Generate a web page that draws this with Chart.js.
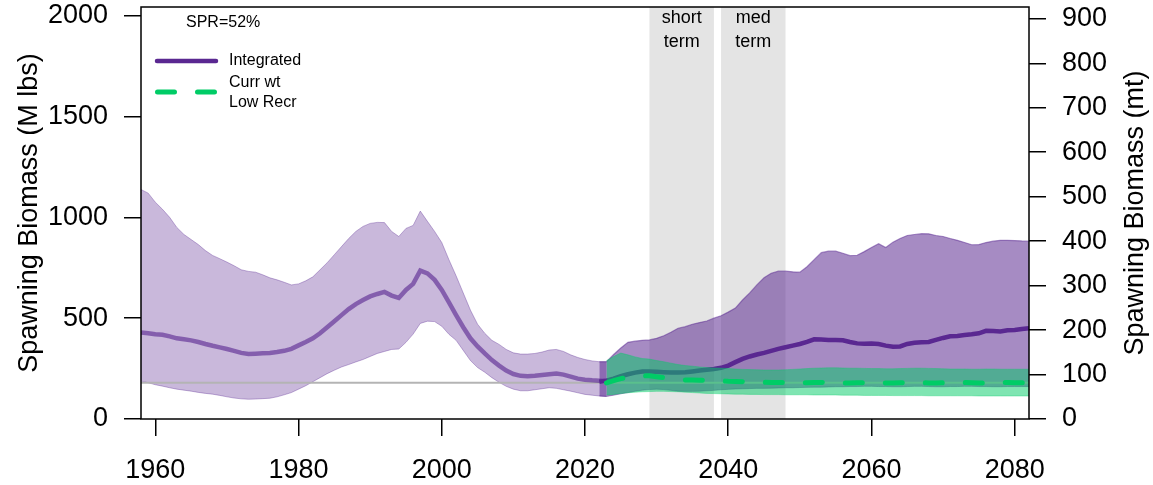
<!DOCTYPE html>
<html>
<head>
<meta charset="utf-8">
<script src="https://cdn.jsdelivr.net/npm/chart.js@4.4.1/dist/chart.umd.min.js"></script>
<style>
  html, body { margin: 0; padding: 0; background: #fff; }
  canvas { display: block; }
</style>
</head>
<body>
<canvas id="biomass-chart" width="1153" height="485"></canvas>
<script>
// spawning biomass, M lbs
const histStart = 1958;
const histMed = [429, 425, 420, 418, 410, 400, 395, 390, 382, 372,
  363, 355, 347, 338, 328, 322, 324, 326, 327, 332,
  338, 348, 365, 382, 400, 425, 455, 485, 515, 545,
  570, 590, 608, 620, 630, 612, 600, 640, 670, 736,
  722, 690, 640, 578, 515, 455, 400, 360, 325, 292,
  265, 240, 223, 214, 212, 214, 218, 222, 225, 220,
  210, 200, 195, 192, 190, 188];
const histUp = [1138, 1120, 1075, 1040, 1000, 950, 915, 890, 865, 835,
  811, 795, 778, 760, 740, 732, 728, 715, 700, 690,
  678, 665, 670, 685, 705, 740, 775, 815, 855, 895,
  930, 955, 970, 975, 974, 930, 905, 945, 960, 1031,
  980, 930, 875, 790, 710, 625, 540, 470, 425, 390,
  370, 345, 328, 322, 322, 325, 332, 342, 345, 335,
  318, 305, 295, 288, 284, 284];
const histLo = [188, 180, 170, 163, 155, 148, 143, 138, 132, 127,
  123, 117, 110, 104, 100, 98, 99, 101, 103, 110,
  120, 131, 148, 165, 185, 205, 225, 242, 258, 270,
  283, 295, 310, 325, 335, 345, 347, 380, 421, 474,
  485, 483, 460, 420, 390, 340, 290, 255, 232, 205,
  182, 162, 148, 140, 140, 145, 150, 155, 152, 145,
  138, 130, 122, 118, 114, 112];

// Integrated projection
const projStart = 2022;
const projMed = [185, 190, 200, 212, 222, 230, 235, 236, 234, 232,
  230, 230, 232, 236, 240, 244, 248, 254, 265, 282,
  298, 310, 320, 328, 338, 348, 356, 364, 372, 382,
  395, 394, 392, 392, 390, 382, 375, 373, 374, 372,
  364, 358, 360, 372, 378, 380, 382, 392, 402, 410,
  412, 416, 420, 425, 437, 436, 434, 440, 441, 446,
  450];
const projUp = [284, 284, 320, 352, 380, 386, 390, 392, 400, 413,
  430, 450, 458, 470, 478, 486, 500, 512, 530, 550,
  590, 625, 665, 700, 723, 733, 733, 730, 728, 755,
  790, 825, 832, 832, 822, 810, 812, 830, 850, 869,
  850, 877, 895, 910, 915, 919, 918, 910, 905, 895,
  886, 875, 864, 865, 875, 882, 886, 886, 885, 883,
  882];
const projLo = [114, 112, 118, 125, 131, 138, 143, 146, 148, 146,
  142, 138, 137, 137, 138, 140, 142, 145, 147, 149,
  150, 151, 152, 152, 153, 154, 155, 155, 156, 157,
  158, 158, 159, 160, 160, 161, 161, 162, 162, 161,
  161, 160, 160, 161, 162, 162, 161, 160, 160, 161,
  161, 162, 162, 161, 161, 160, 160, 161, 161, 161,
  161];

// Curr wt / Low Recr projection
const lowStart = 2023;
const lowMed = [179, 190, 200, 208, 213, 215, 214, 210, 205, 200,
  196, 194, 193, 192, 191, 190, 189, 187, 186, 185,
  184, 183, 182, 181, 181, 181, 180, 180, 180, 181,
  181, 180, 180, 179, 179, 180, 180, 181, 180, 179,
  179, 180, 181, 181, 180, 179, 179, 180, 180, 181,
  181, 180, 179, 179, 180, 181, 181, 180, 180, 180];
const lowUp = [289, 310, 327, 318, 308, 300, 297, 290, 284, 277,
  270, 265, 262, 258, 255, 253, 252, 250, 248, 246,
  245, 244, 243, 243, 243, 244, 246, 248, 250, 252,
  253, 254, 254, 253, 252, 252, 251, 250, 250, 249,
  249, 250, 251, 252, 252, 251, 250, 249, 248, 248,
  248, 247, 247, 248, 248, 247, 247, 247, 247, 247];
const lowLo = [119, 122, 126, 130, 133, 135, 136, 137, 137, 136,
  135, 133, 131, 129, 127, 126, 125, 124, 123, 123,
  122, 122, 121, 121, 121, 120, 120, 120, 120, 119,
  119, 119, 119, 118, 118, 118, 117, 117, 117, 117,
  116, 116, 116, 116, 116, 115, 115, 115, 115, 115,
  115, 115, 114, 114, 114, 114, 114, 114, 114, 114];

const refYears = [1958, 2082];
const refVals = [180, 180];

const bandStart = [2029, 2039];
const bandEnd = [2038, 2048];
const bandLabels = [['short', 'term'], ['med', 'term']];

const xTicks = [1960, 1980, 2000, 2020, 2040, 2060, 2080];
const yTicks = [0, 500, 1000, 1500, 2000];
const y2Ticks = [0, 100, 200, 300, 400, 500, 600, 700, 800, 900];
const lbsPerKg = 2.2046;

const FONT = "'Liberation Sans', Arial, sans-serif";

function pts(start, vals) {
  return vals.map((v, i) => ({x: start + i, y: v}));
}

const ds = [
  // historical band
  {data: pts(histStart, histLo), borderColor: 'rgba(90,40,145,0.35)', borderWidth: 1, fill: false, order: 10},
  {data: pts(histStart, histUp), borderColor: 'rgba(90,40,145,0.35)', borderWidth: 1, fill: '-1', backgroundColor: 'rgba(90,40,145,0.33)', order: 10},
  // projection band
  {data: pts(projStart, projLo), borderColor: 'rgba(90,40,145,0.45)', borderWidth: 1, fill: false, order: 9},
  {data: pts(projStart, projUp), borderColor: 'rgba(90,40,145,0.5)', borderWidth: 1.2, fill: '-1', backgroundColor: 'rgba(90,40,145,0.54)', order: 9},
  // reference line
  {data: refYears.map((x, i) => ({x: x, y: refVals[i]})), borderColor: '#b4b4b4', borderWidth: 2, order: 8},
  // medians
  {data: pts(histStart, histMed), borderColor: 'rgba(90,40,145,0.62)', borderWidth: 4.5, order: 7},
  {data: pts(projStart, projMed), borderColor: '#5a2891', borderWidth: 4.5, order: 6},
  // low recruitment band
  {data: pts(lowStart, lowLo), borderColor: 'rgba(0,204,102,0.35)', borderWidth: 1, fill: false, order: 5},
  {data: pts(lowStart, lowUp), borderColor: 'rgba(0,204,102,0.35)', borderWidth: 1, fill: '-1', backgroundColor: 'rgba(0,204,102,0.5)', order: 5},
  {data: pts(lowStart, lowMed), borderColor: '#00cc66', borderWidth: 5, borderDash: [17, 23], borderCapStyle: 'round', order: 4}
];

const decor = {
  id: 'decor',
  beforeDatasetsDraw(chart) {
    const {ctx, chartArea: a, scales: {x}} = chart;
    ctx.save();
    ctx.fillStyle = '#e4e4e4';
    for (let i = 0; i < bandStart.length; i++) {
      const x0 = x.getPixelForValue(bandStart[i]);
      const x1 = x.getPixelForValue(bandEnd[i]);
      ctx.fillRect(x0, a.top, x1 - x0, a.bottom - a.top);
    }
    ctx.restore();
  },
  afterDatasetsDraw(chart) {
    const {ctx, chartArea: a, scales: {x}} = chart;
    ctx.save();
    // band labels
    ctx.fillStyle = '#000';
    ctx.font = '18px ' + FONT;
    ctx.textAlign = 'center';
    ctx.textBaseline = 'middle';
    for (let i = 0; i < bandStart.length; i++) {
      const cx = (x.getPixelForValue(bandStart[i]) + x.getPixelForValue(bandEnd[i])) / 2;
      bandLabels[i].forEach((t, j) => ctx.fillText(t, cx, a.top + 11 + j * 24));
    }
    // box
    ctx.strokeStyle = '#000';
    ctx.lineWidth = 1.5;
    ctx.strokeRect(a.left, a.top, a.right - a.left, a.bottom - a.top);
    // legend
    const lx = a.left + 15;
    ctx.font = '16px ' + FONT;
    ctx.textAlign = 'left';
    ctx.fillText('SPR=52%', lx + 30, a.top + 16);
    ctx.lineCap = 'round';
    ctx.strokeStyle = ds[6].borderColor;
    ctx.lineWidth = 4.5;
    ctx.beginPath();
    ctx.moveTo(lx + 1, a.top + 54);
    ctx.lineTo(lx + 60, a.top + 54);
    ctx.stroke();
    ctx.fillText('Integrated', lx + 73, a.top + 54);
    ctx.strokeStyle = ds[9].borderColor;
    ctx.lineWidth = 5;
    ctx.setLineDash(ds[9].borderDash);
    ctx.beginPath();
    ctx.moveTo(lx + 1.5, a.top + 85);
    ctx.lineTo(lx + 59.5, a.top + 85);
    ctx.stroke();
    ctx.setLineDash([]);
    ctx.fillText('Curr wt', lx + 73, a.top + 76);
    ctx.fillText('Low Recr', lx + 73, a.top + 96);
    ctx.restore();
  },
  afterDraw(chart) {
    const {ctx, chartArea: a} = chart;
    const cy = (a.top + a.bottom) / 2;
    ctx.save();
    ctx.fillStyle = '#000';
    ctx.font = '27px ' + FONT;
    ctx.textAlign = 'center';
    ctx.textBaseline = 'middle';
    [[30, 'Spawning Biomass (M lbs)'], [1136, 'Spawning Biomass (mt)']].forEach(([tx, t]) => {
      ctx.save();
      ctx.translate(tx, cy);
      ctx.rotate(-Math.PI / 2);
      ctx.fillText(t, 0, 0);
      ctx.restore();
    });
    ctx.restore();
  }
};

function axisStyle(tickVals, size, pad, extra) {
  return Object.assign({
    grid: {display: true, drawOnChartArea: false, drawTicks: true, tickLength: 17, color: '#000', lineWidth: 1.5},
    border: {display: false},
    afterBuildTicks: s => { s.ticks = tickVals.map(v => ({value: v})); },
    afterFit: s => {
      if (s.isHorizontal()) s.height = size; else s.width = size;
      s.paddingTop = s.paddingBottom = s.paddingLeft = s.paddingRight = 0;
    },
    ticks: {
      color: '#000', padding: pad, autoSkip: false, maxRotation: 0,
      font: {size: 27, family: FONT},
      callback: v => String(v)
    }
  }, extra);
}

const ctx = document.getElementById('biomass-chart');
new Chart(ctx, {
  type: 'line',
  data: {datasets: ds},
  plugins: [decor],
  options: {
    responsive: false,
    animation: false,
    layout: {padding: {top: 7}},
    elements: {point: {radius: 0}, line: {tension: 0}},
    plugins: {legend: {display: false}, tooltip: {enabled: false}},
    scales: {
      x: axisStyle(xTicks, 66, 18, {type: 'linear', position: 'bottom', min: 1958, max: 2082}),
      y: axisStyle(yTicks, 141, 16, {type: 'linear', position: 'left', min: 0, max: 2043}),
      y2: axisStyle(y2Ticks, 124, 16, {type: 'linear', position: 'right', min: 0, max: 2043 / lbsPerKg})
    }
  }
});
</script>
</body>
</html>
